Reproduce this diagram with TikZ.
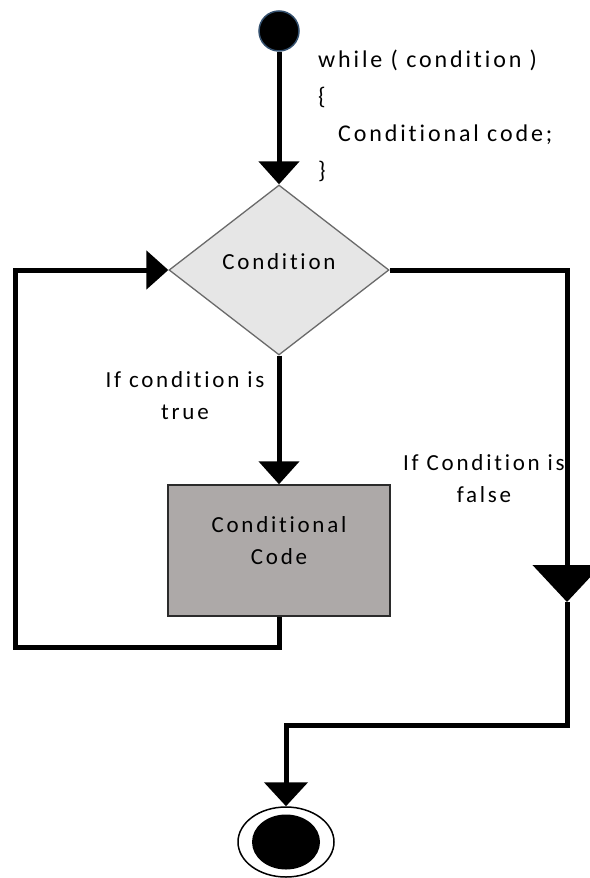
\documentclass[tikz,border=0pt]{standalone}
\usepackage{fontspec}
\setmainfont{Carlito}[LetterSpace=12, Ligatures=CommonOff]
\usetikzlibrary{arrows.meta,shapes.geometric}
\definecolor{diafill}{HTML}{E6E6E6}
\definecolor{diaedge}{HTML}{6A6A6A}
\definecolor{boxfill}{HTML}{ADA9A8}
\definecolor{boxedge}{HTML}{2B2B2B}
\definecolor{startedge}{HTML}{34506E}
\begin{document}
\begin{tikzpicture}[x=1pt,y=-1pt,
  conn/.style={line width=5pt, line join=miter, draw=black},
  txt/.style={font=\fontsize{23}{32}\selectfont, inner sep=0pt, align=center},
  code/.style={font=\fontsize{24}{37}\selectfont, inner sep=0pt, align=left},
]
\useasboundingbox[fill=white] (0,0) rectangle (589,878);

% nodes
\node[circle, fill=black, draw=startedge, line width=1.5pt, minimum size=40pt, inner sep=0pt] (start) at (279,31) {};
\node[diamond, draw=diaedge, fill=diafill, line width=1.3pt, minimum width=220pt, minimum height=170pt, inner sep=0pt] (cond) at (279,270) {};
\node[txt] (condlbl) at (279,262) {Condition};
\node[rectangle, draw=boxedge, fill=boxfill, line width=1.5pt, minimum width=222pt, minimum height=131pt, inner sep=0pt] (codebox) at (279,550.5) {};
\node[txt, anchor=base] (codelbl) at (279,564) {Conditional\\Code};
\node[ellipse, draw=black, fill=white, line width=1.5pt, minimum width=96pt, minimum height=70pt, inner sep=0pt] (stop) at (286,842) {};
\node[ellipse, fill=black, minimum width=68pt, minimum height=55pt, inner sep=0pt] (stopin) at (286,842) {};

\node[code, anchor=base west] (loopcode) at (318,178) {while ( condition )\\{\char`\{}\\\hspace*{20pt}Conditional code;\\{\char`\}}};

\node[txt, anchor=base] (truelbl) at (185,419) {If condition is\\true};
\node[txt, anchor=base] (falselbl) at (484,502) {If Condition is\\false};

% turning points
\coordinate (lb) at (15,647);
\coordinate (rarr) at (567,602);
\coordinate (rturn) at (286,725);

% connectors
\draw[conn, -{Triangle[length=23pt,width=40pt]}] (start) -- (cond.north);
\draw[conn, -{Triangle[length=23pt,width=40pt]}] (cond.south) -- (codebox.north);
\draw[conn, -{Triangle[length=22pt,width=38pt]}] (codebox.south) |- (lb) |- (cond.west);
\draw[conn, -{Triangle[length=37pt,width=68pt]}] (cond.east) -| (rarr);
\draw[conn, -{Triangle[length=24pt,width=43pt]}] (rarr) |- (rturn) -- (stop.north);
\end{tikzpicture}
\end{document}
